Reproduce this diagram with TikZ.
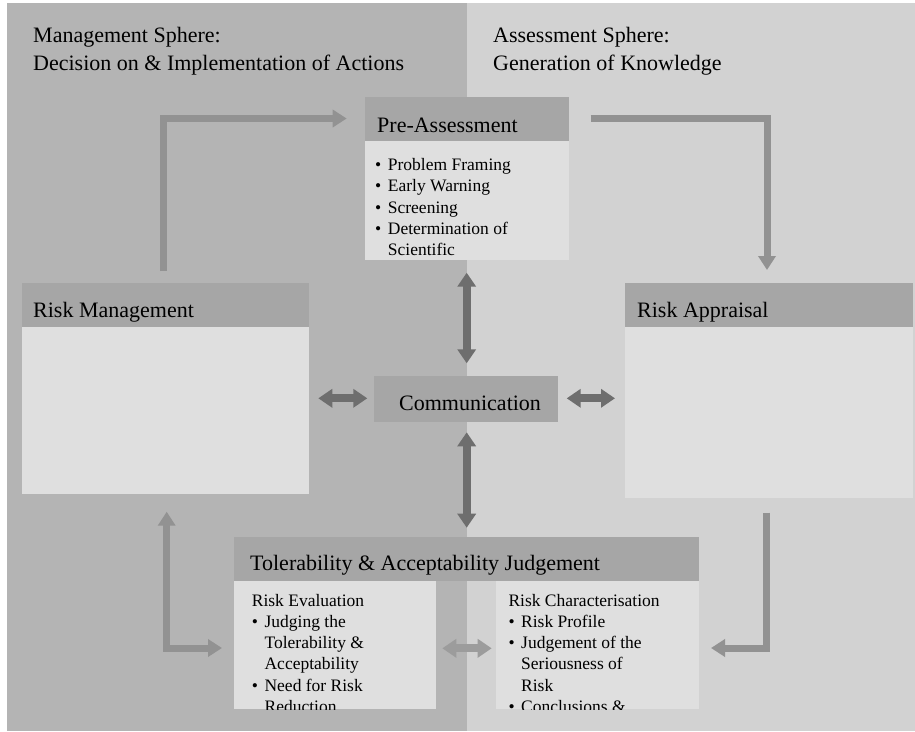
\documentclass[tikz,border=0pt]{standalone}
\usepackage{fontspec}
\setmainfont{Liberation Serif}
\usetikzlibrary{arrows.meta,calc}
\definecolor{bgL}{HTML}{B4B4B4}
\definecolor{bgR}{HTML}{D2D2D2}
\definecolor{hdr}{HTML}{A6A6A6}
\definecolor{bdy}{HTML}{DFDFDF}
\definecolor{arrL}{HTML}{929292}
\definecolor{arrD}{HTML}{6E6E6E}
\definecolor{arrM}{HTML}{9C9C9C}
\newcommand{\bitem}{\makebox[12.7pt][l]{\textbullet}}
\newcommand{\bcont}{\hspace*{12.7pt}}
\begin{document}
\begin{tikzpicture}[x=1pt,y=-1pt,
  box/.style={draw=none,inner sep=0pt,outer sep=0pt,anchor=north west},
  hdrbox/.style={box,fill=hdr},
  bdybox/.style={box,fill=bdy},
  bigtext/.style={anchor=base west,inner sep=0pt,font=\fontsize{22}{28}\selectfont},
  smalltext/.style={anchor=base west,inner sep=0pt,font=\fontsize{17.5}{21.25}\selectfont},
  flow/.style={draw=arrL,line width=7pt,line join=miter,-{Triangle[width=17pt,length=14pt]}},
  flowtwo/.style={draw=arrL,line width=7pt,line join=miter,{Triangle[width=17pt,length=14pt]}-{Triangle[width=17pt,length=14pt]}},
  dbl/.style={draw=arrD,line width=8pt,{Triangle[width=18pt,length=14pt]}-{Triangle[width=18pt,length=14pt]}},
  dblmid/.style={draw=arrM,line width=8pt,{Triangle[width=18pt,length=14pt]}-{Triangle[width=18pt,length=14pt]}}
]
\useasboundingbox (0,0) rectangle (915,731);
% backgrounds
\fill[white] (0,0) rectangle (915,731);
\fill[bgL] (7,3) rectangle (467,731);
\fill[bgR] (467,3) rectangle (915,731);

% sphere titles
\node[bigtext] (mgmt) at (33,42) {\parbox[t]{420pt}{Management Sphere:\\Decision on \& Implementation of Actions}};
\node[bigtext] (assm) at (493,42) {\parbox[t]{400pt}{Assessment Sphere:\\Generation of Knowledge}};

% Pre-Assessment
\node[hdrbox,minimum width=204pt,minimum height=44pt] (preH) at (365,97) {};
\node[bdybox,minimum width=204pt,minimum height=119pt] (preB) at (365,141) {};
\node[bigtext] (preT) at (377,132) {Pre-Assessment};
\begin{scope}
\clip (preB.north west) rectangle (preB.south east);
\node[smalltext] (preL) at (375,170.7) {\parbox[t]{190pt}{\bitem Problem Framing\\\bitem Early Warning\\\bitem Screening\\\bitem Determination of\\\bcont Scientific}};
\end{scope}

% Risk Management
\node[hdrbox,minimum width=287pt,minimum height=44pt] (rmH) at (22,283) {};
\node[bdybox,minimum width=287pt,minimum height=167pt] (rmB) at (22,327) {};
\node[bigtext] (rmT) at (33,317.7) {Risk Management};

% Risk Appraisal
\node[hdrbox,minimum width=288pt,minimum height=44pt] (raH) at (625,283) {};
\node[bdybox,minimum width=288pt,minimum height=171pt] (raB) at (625,327) {};
\node[bigtext] (raT) at (637,317.7) {Risk Appraisal};

% Communication
\node[hdrbox,minimum width=184pt,minimum height=46pt] (comm) at (374,376) {};
\node[bigtext] (commT) at (399,410) {Communication};

% Tolerability & Acceptability Judgement
\node[hdrbox,minimum width=465pt,minimum height=44pt] (tolH) at (234,537) {};
\node[bdybox,minimum width=202pt,minimum height=128pt] (tolLB) at (234,581) {};
\node[bdybox,minimum width=203pt,minimum height=128pt] (tolRB) at (496,581) {};
\node[bigtext] (tolT) at (250,570.7) {Tolerability \& Acceptability Judgement};
\begin{scope}
\clip (tolLB.north west) rectangle (tolLB.south east);
\node[smalltext] (tolLT) at (251.7,606) {\parbox[t]{190pt}{Risk Evaluation\\\bitem Judging the\\\bcont Tolerability \&\\\bcont Acceptability\\\bitem Need for Risk\\\bcont Reduction}};
\end{scope}
\begin{scope}
\clip (tolRB.north west) rectangle (tolRB.south east);
\node[smalltext] (tolRT) at (508.3,606) {\parbox[t]{195pt}{Risk Characterisation\\\bitem Risk Profile\\\bitem Judgement of the\\\bcont Seriousness of\\\bcont Risk\\\bitem Conclusions \&}};
\end{scope}

% main cycle arrows
\draw[flow] ($(rmH.north)+(-2.2,-12)$) |- ($(preH.west)+(-18.3,-0.5)$);
\draw[flow] ($(preH.east)+(21.7,-0.7)$) -| ($(raH.north)+(-2,-13)$);
\draw[flow] ($(raB.south)+(-2.3,14.7)$) |- ($(tolRB.east)+(12,3)$);
\draw[flowtwo] ($(tolLB.west)+(-12,3)$) -| ($(rmB.south)+(1.2,17.7)$);

% communication arrows
\draw[dbl] ($(preB.south)+(-0.3,12.7)$) -- ($(comm.north)+(0.7,-12.7)$);
\draw[dbl] ($(comm.south)+(0.7,10.3)$) -- ($(tolH.north)+(0.2,-9.3)$);
\draw[dbl] ($(rmB.east |- comm.west)+(9.3,-0.7)$) -- ($(comm.west)+(-6.7,-0.7)$);
\draw[dbl] ($(comm.east)+(8.7,-0.7)$) -- ($(raB.west |- comm.east)+(-10,-0.7)$);
\draw[dblmid] ($(tolLB.east)+(6.3,3.3)$) -- ($(tolRB.west)+(-4.3,3.3)$);
\end{tikzpicture}
\end{document}
